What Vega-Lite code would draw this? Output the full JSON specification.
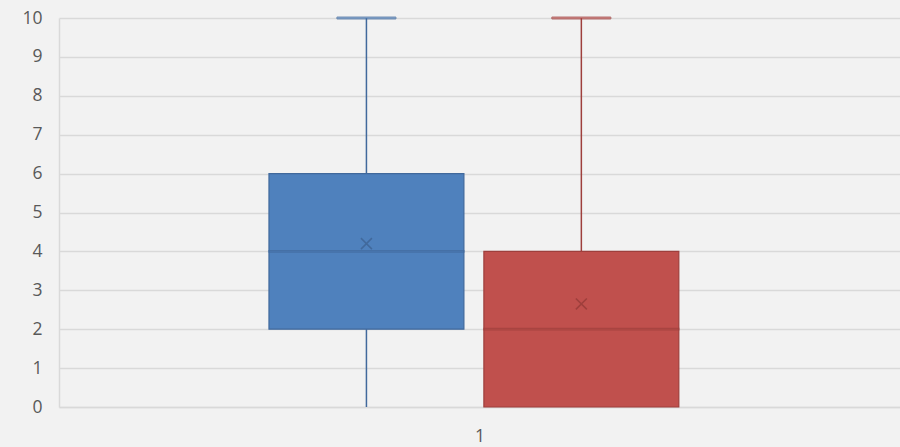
{
  "$schema": "https://vega.github.io/schema/vega-lite/v6.json",
  "width": 841,
  "height": 389,
  "autosize": {"type": "none"},
  "padding": {"left": 59, "top": 18, "right": 0, "bottom": 40},
  "background": "#f2f2f2",
  "config": {
    "view": {"stroke": null},
    "font": "Open Sans",
    "axis": {"labelFont": "Open Sans", "labelColor": "#595959", "labelFontSize": 17.5},
    "axisY": {"ticks": false, "domain": true, "domainColor": "#d9d9d9", "domainWidth": 1.5, "gridColor": "#d9d9d9", "gridWidth": 1.5, "labelPadding": 17, "labelOverlap": false}
  },
  "data": {
    "values": [
      {"cat": "1", "series": "A", "min": 0, "q1": 2, "median": 4, "q3": 6, "max": 10, "mean": 4.2},
      {"cat": "1", "series": "B", "min": 0, "q1": 0, "median": 2, "q3": 4, "max": 10, "mean": 2.65}
    ]
  },
  "encoding": {
    "x": {
      "field": "cat", "type": "nominal",
      "scale": {"paddingInner": 0, "paddingOuter": 0.526, "align": 0.487},
      "axis": {"title": null, "labelAngle": 0, "ticks": false, "domain": true, "domainColor": "#d9d9d9", "domainWidth": 1.5, "labelPadding": 20, "labelOffset": 6, "grid": false}
    },
    "xOffset": {"field": "series", "type": "nominal", "scale": {"paddingInner": 0.093, "paddingOuter": 0}},
    "color": {
      "field": "series", "type": "nominal", "legend": null,
      "scale": {"domain": ["A", "B"], "range": ["#4f81bd", "#c0504d"]}
    },
    "stroke": {
      "field": "series", "type": "nominal", "legend": null,
      "scale": {"domain": ["A", "B"], "range": ["#41699c", "#9e3f3c"]}
    }
  },
  "layer": [
    {
      "mark": {"type": "rule", "strokeWidth": 1.5},
      "encoding": {
        "y": {"field": "min", "type": "quantitative", "scale": {"domain": [0, 10]},
          "axis": {"title": null, "values": [0,1,2,3,4,5,6,7,8,9,10]}},
        "y2": {"field": "max"}
      }
    },
    {
      "mark": {"type": "tick", "orient": "horizontal", "size": 59, "thickness": 2},
      "encoding": {"y": {"field": "max", "type": "quantitative", "axis": {"title": null, "values": [0,1,2,3,4,5,6,7,8,9,10]}}}
    },
    {
      "mark": {"type": "bar", "strokeWidth": 1.2, "opacity": 1, "fillOpacity": 1},
      "encoding": {
        "y": {"field": "q1", "type": "quantitative", "axis": {"title": null, "values": [0,1,2,3,4,5,6,7,8,9,10]}},
        "y2": {"field": "q3"}
      }
    },
    {
      "mark": {"type": "tick", "orient": "horizontal", "size": 195, "thickness": 1.5, "filled": false, "strokeWidth": 1.2},
      "encoding": {"y": {"field": "median", "type": "quantitative", "axis": {"title": null, "values": [0,1,2,3,4,5,6,7,8,9,10]}}}
    },
    {
      "mark": {"type": "point", "shape": "M-1,-1L1,1M1,-1L-1,1", "size": 120, "filled": false, "strokeWidth": 1.5, "opacity": 1},
      "encoding": {"y": {"field": "mean", "type": "quantitative", "axis": {"title": null, "values": [0,1,2,3,4,5,6,7,8,9,10]}}}
    }
  ]
}
